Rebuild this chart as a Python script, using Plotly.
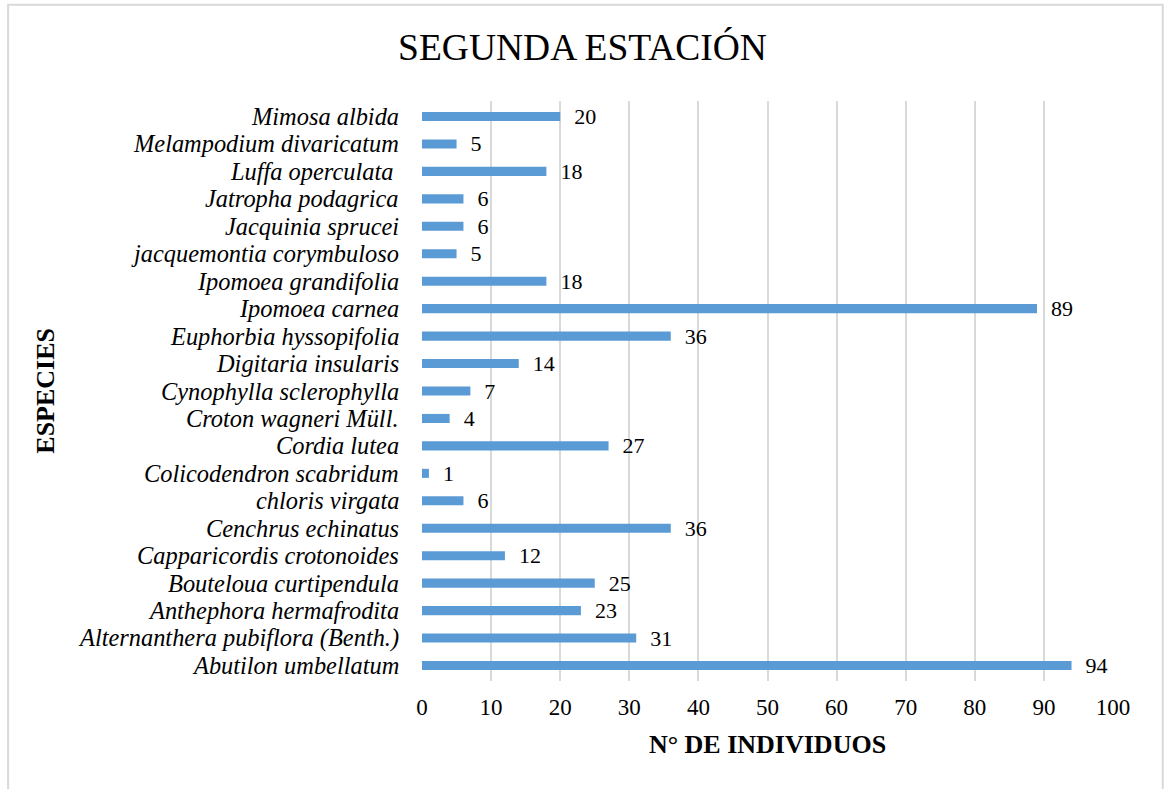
import plotly.graph_objects as go

especies = [
    "Abutilon umbellatum",
    "Alternanthera pubiflora (Benth.)",
    "Anthephora hermafrodita",
    "Bouteloua curtipendula",
    "Capparicordis crotonoides",
    "Cenchrus echinatus",
    "chloris virgata",
    "Colicodendron scabridum",
    "Cordia lutea",
    "Croton wagneri Müll.",
    "Cynophylla sclerophylla",
    "Digitaria insularis",
    "Euphorbia hyssopifolia",
    "Ipomoea carnea",
    "Ipomoea grandifolia",
    "jacquemontia corymbuloso",
    "Jacquinia sprucei",
    "Jatropha podagrica",
    "Luffa operculata ",
    "Melampodium divaricatum",
    "Mimosa albida",
]
individuos = [94, 31, 23, 25, 12, 36, 6, 1, 27, 4, 7, 14, 36, 89, 18, 5, 6, 6, 18, 5, 20]
x_ticks = [0, 10, 20, 30, 40, 50, 60, 70, 80, 90, 100]

font = "Liberation Serif, Times New Roman, serif"

fig = go.Figure()
fig.add_trace(go.Bar(
    y=especies, x=individuos, orientation="h",
    marker=dict(color="#5B9BD5", line=dict(width=0)),
    width=0.33,
    text=individuos, texttemplate="  %{x}", textposition="outside",
    constraintext="none",
    textfont=dict(family=font, size=22, color="#000000"),
    cliponaxis=False,
))

fig.update_layout(
    width=1165, height=789,
    margin=dict(l=422, r=52, t=101, b=108),
    paper_bgcolor="white", plot_bgcolor="white",
    font=dict(family=font, color="#000000"),
    showlegend=False,
    title=dict(text="SEGUNDA ESTACIÓN", x=0.5, xref="container", y=0.94, yref="container",
               xanchor="center", yanchor="middle", font=dict(family=font, size=37.5, color="#000000")),
    bargap=0.67,
)

fig.update_xaxes(
    range=[0, 100], tickvals=x_ticks, showgrid=True, gridcolor="#d9d9d9", gridwidth=2,
    zeroline=False, showline=False, ticks="",
    ticklabelstandoff=10,
    tickfont=dict(family=font, size=23),
    title=dict(text="<b>N° DE INDIVIDUOS</b>", font=dict(family=font, size=26), standoff=15),
)
# category labels drawn as annotations so none get auto-hidden
fig.update_yaxes(
    categoryorder="array", categoryarray=especies,
    showgrid=False, zeroline=False, showline=False, ticks="",
    showticklabels=False,
)
for sp in especies:
    fig.add_annotation(
        text=sp, xref="paper", yref="y", x=0, y=sp, xanchor="right", yanchor="middle",
        xshift=-21, showarrow=False,
        font=dict(family=font, size=24.4, style="italic"),
    )

fig.add_annotation(
    text="<b>ESPECIES</b>", xref="paper", yref="paper", x=-0.546, y=0.5,
    textangle=-90, showarrow=False, font=dict(family=font, size=26),
    xanchor="center", yanchor="middle",
)

fig.add_shape(
    type="rect", xref="paper", yref="paper",
    x0=-0.599, x1=1.072, y0=-0.25, y1=1.166,
    line=dict(color="#d9d9d9", width=2), layer="below",
)

fig.write_html("out.html", config={"displayModeBar": False},
               post_script="document.body.style.margin='0';")
